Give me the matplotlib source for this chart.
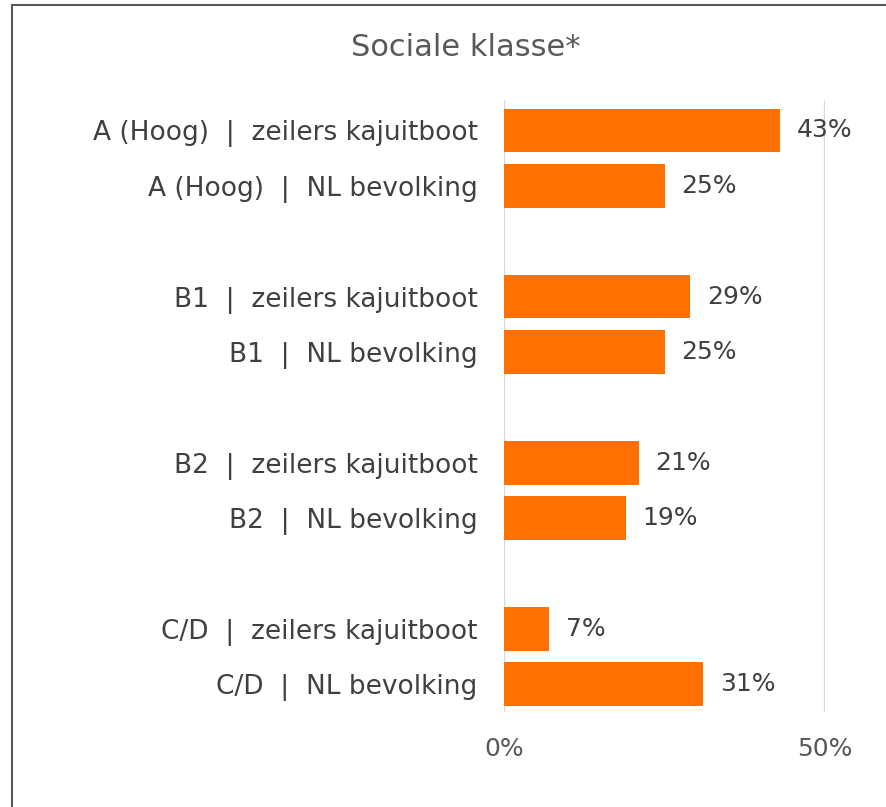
import numpy as np
import matplotlib.pyplot as plt

labels = ['A (Hoog)  |  zeilers kajuitboot', 'A (Hoog)  |  NL bevolking',
          'B1  |  zeilers kajuitboot', 'B1  |  NL bevolking',
          'B2  |  zeilers kajuitboot', 'B2  |  NL bevolking',
          'C/D  |  zeilers kajuitboot', 'C/D  |  NL bevolking']
values = [43, 25, 29, 25, 21, 19, 7, 31]
# two bars per group, empty slot between groups
slots = [0, 1, 3, 4, 6, 7, 9, 10]

plt.rcParams['font.family'] = ['DejaVu Sans']
txt = '#404040'

fig = plt.figure(figsize=(8.86, 8.07), dpi=100)
ax = fig.add_axes([504/886, 95/807, 321/886, 612/807])

ax.barh(slots, values, height=0.79, color='#FF7000')
for y, v in zip(slots, values):
    ax.text(v + 2.6, y, f'{v}%', va='center', ha='left', fontsize=18, color=txt)

ax.set_xlim(0, 50)
ax.set_ylim(10.5, -0.55)
ax.set_yticks(slots)
ax.set_yticklabels(labels, fontsize=19, color=txt)
ax.set_xticks([0, 50])
ax.set_xticklabels(['0%', '50%'], fontsize=18, color='#595959')
ax.tick_params(length=0)
ax.tick_params(axis='y', pad=19)
ax.tick_params(axis='x', pad=18)
ax.grid(axis='x', color='#d9d9d9', linewidth=1.6)
ax.set_axisbelow(True)
for s in ax.spines.values():
    s.set_visible(False)

fig.text(466/886, 1 - 47/807, 'Sociale klasse*', ha='center', va='center',
         fontsize=22, color='#595959')

# chart border (runs off the right and bottom edge)
fig.add_artist(plt.Rectangle((12/886, -0.1), 1.2, 1 - 5/807 + 0.1,
                             transform=fig.transFigure, fill=False,
                             edgecolor='#595959', linewidth=1.5))

fig.savefig('out.png', dpi=100)
